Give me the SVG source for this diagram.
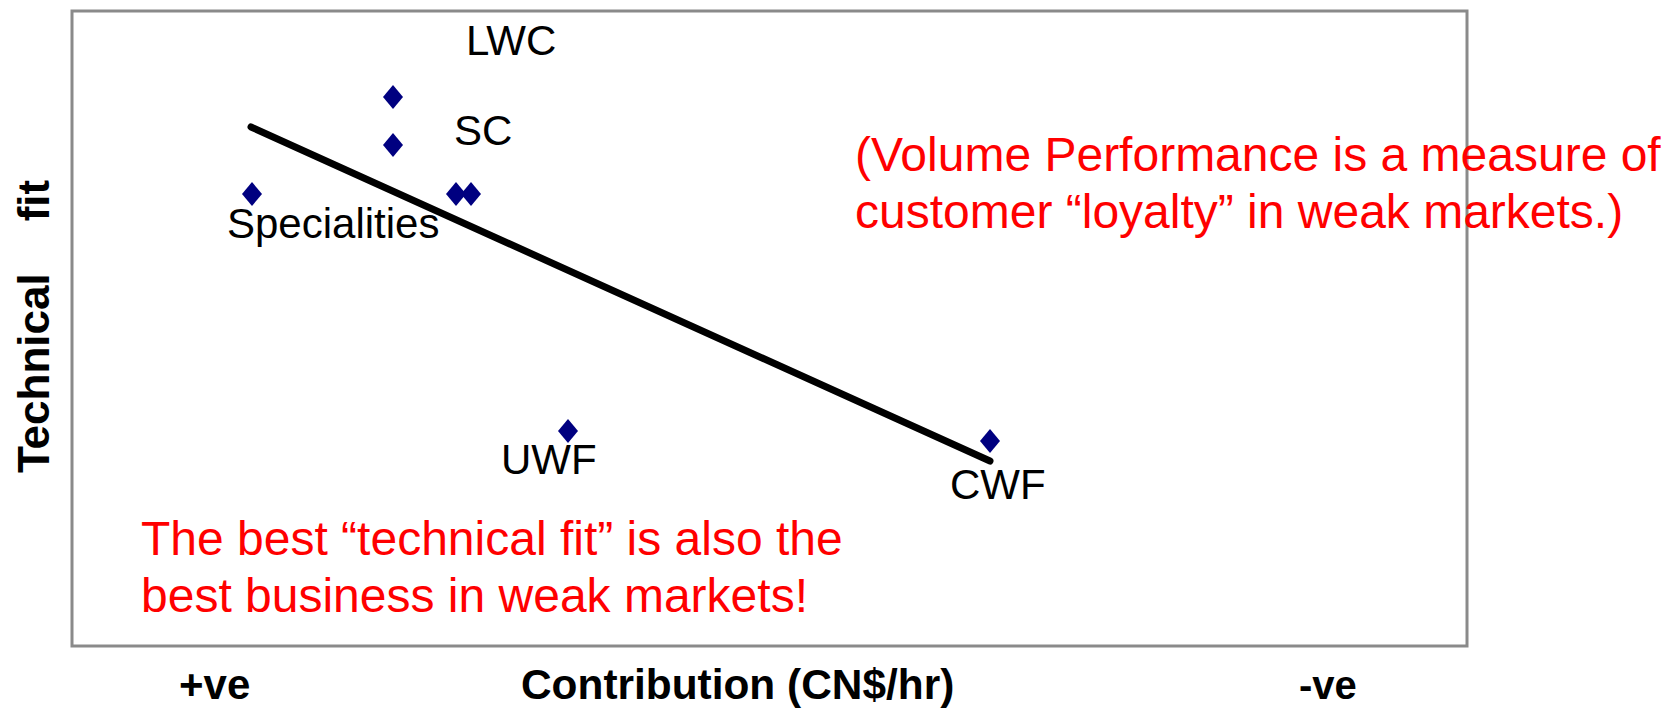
<svg xmlns="http://www.w3.org/2000/svg" width="1666" height="708" viewBox="0 0 1666 708">
<defs>
<style>
.frame{fill:#ffffff;stroke:#8a8a8a;stroke-width:3}
.pt{fill:#000080}
.lbl{font-family:"Liberation Sans",Arial,sans-serif;font-size:42px;fill:#000000}
.note{font-family:"Liberation Sans",Arial,sans-serif;font-size:48px;fill:#ff0000}
.axis{font-family:"Liberation Sans",Arial,sans-serif;font-weight:bold;fill:#000000}
.trend{stroke:#000000;stroke-width:7;stroke-linecap:round;fill:none}
</style>
<path id="dia" d="M0,-12 L10,0 L0,12 L-10,0 Z"/>
</defs>
<rect width="1666" height="708" fill="#ffffff"/>
<rect class="frame" x="72" y="11" width="1395" height="635"/>

<g id="connectors">
<line class="trend" x1="251" y1="127" x2="990" y2="461"/>
</g>

<g id="node-lwc">
<use href="#dia" class="pt" x="393" y="97"/>
<text class="lbl" x="466" y="55">LWC</text>
</g>
<g id="node-sc">
<use href="#dia" class="pt" x="393" y="145"/>
<text class="lbl" x="454" y="145">SC</text>
</g>
<g id="node-specialities">
<use href="#dia" class="pt" x="252" y="194"/>
<text class="lbl" x="227" y="238">Specialities</text>
</g>
<g id="node-pair">
<use href="#dia" class="pt" x="456" y="194"/>
<use href="#dia" class="pt" x="471" y="194"/>
</g>
<g id="node-uwf">
<use href="#dia" class="pt" x="568" y="431"/>
<text class="lbl" x="501" y="474">UWF</text>
</g>
<g id="node-cwf">
<use href="#dia" class="pt" x="990" y="441"/>
<text class="lbl" x="950" y="499">CWF</text>
</g>

<g id="note-volume">
<text class="note" font-size="47.5" x="855" y="171">(Volume Performance is a measure of</text>
<text class="note" font-size="47.5" x="855" y="228">customer “loyalty” in weak markets.)</text>
</g>
<g id="note-best">
<text class="note" font-size="48.4" x="141" y="555">The best “technical fit” is also the</text>
<text class="note" x="141" y="612">best business in weak markets!</text>
</g>

<g id="axis-labels">
<text class="axis" font-size="44" transform="translate(49,473) rotate(-90)">Technical<tspan dx="52">fit</tspan></text>
<text class="axis" font-size="42" x="179" y="699">+ve</text>
<text class="axis" font-size="42.4" x="521" y="699">Contribution (CN$/hr)</text>
<text class="axis" font-size="40" x="1299" y="699">-ve</text>
</g>
</svg>
